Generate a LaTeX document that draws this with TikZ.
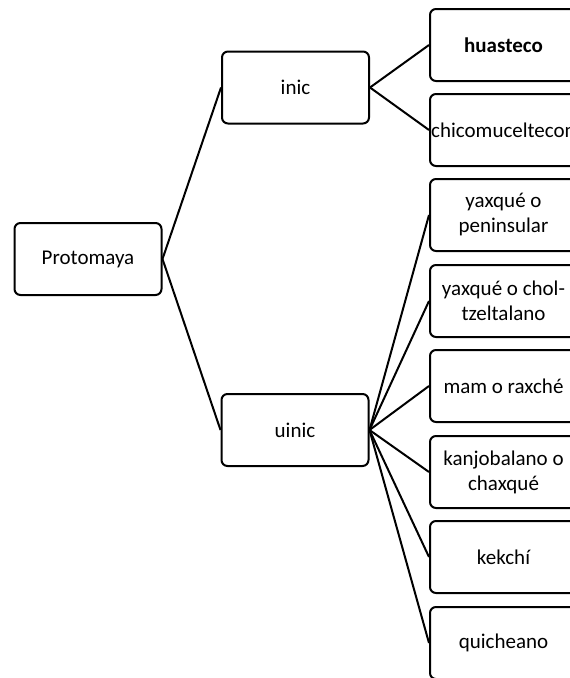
\documentclass[tikz,border=0pt]{standalone}
\usepackage{fontspec}
\setmainfont{Carlito}
\begin{document}
\begin{tikzpicture}[x=1pt,y=-1pt,
  box/.style={draw,line width=2pt,rounded corners=6pt,minimum width=147pt,minimum height=72pt,
    align=center,inner sep=0pt,font=\fontsize{21}{25}\selectfont},
  link/.style={line width=2pt}]
\useasboundingbox (0,0) rectangle (570,678);
\node[box] (p) at (88,259) {Protomaya};
\node[box] (inic) at (295.5,87.5) {inic};
\node[box] (uinic) at (295,430) {uinic};
\node[box] (hu) at (503.5,45) {\textbf{huasteco}};
\node[box] (ch) at (503.5,130) {chicomuceltecon};
\node[box] (yp) at (503.5,215) {yaxqué o\\peninsular};
\node[box] (yc) at (503.5,301) {yaxqué o chol-\\tzeltalano};
\node[box] (mam) at (503.5,386) {mam o raxché};
\node[box] (kan) at (503.5,472) {kanjobalano o\\chaxqué};
\node[box] (kek) at (503.5,557) {kekchí};
\node[box] (qui) at (503.5,643) {quicheano};
\draw[link] (p.east) -- (inic.west);
\draw[link] (p.east) -- (uinic.west);
\draw[link] (inic.east) -- (hu.west);
\draw[link] (inic.east) -- (ch.west);
\foreach \n in {yp,yc,mam,kan,kek,qui}
  \draw[link] (uinic.east) -- (\n.west);
\end{tikzpicture}
\end{document}
